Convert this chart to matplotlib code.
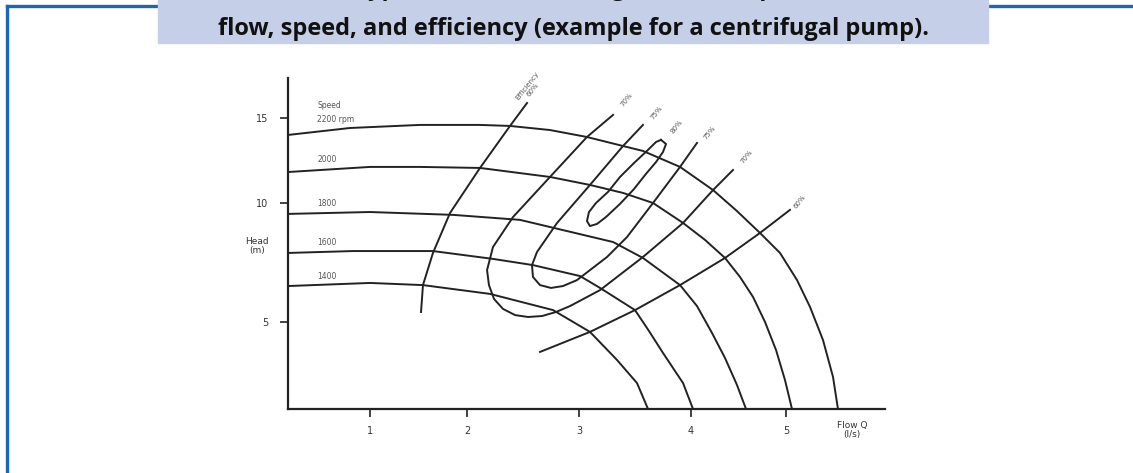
import numpy as np
import matplotlib
matplotlib.use('Agg')
import matplotlib.pyplot as plt
from matplotlib.lines import Line2D
from matplotlib.patches import Rectangle

# pump curves: flow Q (l/s) vs head (m)
q_2200 = [0, 0.756, 1.515, 2.116, 2.384, 2.741, 3.071, 3.393, 3.571, 3.902, 4.232, 4.484, 4.726, 4.937, 5.116, 5.253, 5.389, 5.495, 5.547]
h_2200 = [14.0, 14.41, 14.59, 14.59, 14.53, 14.29, 13.88, 13.35, 13.06, 12.12, 10.76, 9.66, 8.74, 7.90, 6.76, 5.63, 3.97, 1.84, 0]
q_2000 = [0, 1, 1.515, 2.116, 2.741, 3.098, 3.393, 3.661, 3.929, 4.147, 4.358, 4.516, 4.653, 4.779, 4.895, 4.989, 5.063]
h_2000 = [11.82, 12.12, 12.12, 12.06, 11.53, 11.06, 10.59, 10.0, 9.16, 8.45, 7.69, 6.89, 6.05, 5.0, 3.39, 1.67, 0]
q_1800 = [0, 1, 1.856, 2.473, 2.741, 3.304, 3.571, 3.902, 4.063, 4.221, 4.358, 4.484, 4.579]
h_1800 = [9.54, 9.62, 9.50, 9.29, 8.99, 8.36, 7.69, 6.55, 5.67, 4.37, 2.93, 1.38, 0]
q_1600 = [0, 0.793, 1.649, 2.232, 2.589, 3.009, 3.188, 3.5, 3.625, 3.75, 3.929, 4.021]
h_1600 = [7.90, 7.98, 7.98, 7.65, 7.39, 6.93, 6.43, 5.50, 4.48, 3.22, 1.49, 0]
q_1400 = [0, 1, 1.546, 2.205, 2.768, 3.098, 3.339, 3.518, 3.616]
h_1400 = [6.51, 6.64, 6.55, 6.18, 5.50, 4.43, 2.82, 1.49, 0]

speed_labels = ['2200 rpm', '2000', '1800', '1600', '1400']
speed_label_h = [14.88, 12.53, 9.96, 8.32, 6.89]

# efficiency contours
q_e60a = [2.536, 2.384, 2.116, 1.825, 1.649, 1.546, 1.526]
h_e60a = [15.88, 14.53, 12.06, 9.58, 7.90, 6.55, 5.42]
q_e60b = [2.652, 3.098, 3.5, 3.902, 4.358, 4.726, 5.042]
h_e60b = [3.28, 4.43, 5.50, 6.55, 7.69, 8.74, 9.71]
q_e70 = [3.304, 3.071, 2.741, 2.411, 2.232, 2.179, 2.196, 2.241, 2.321, 2.429, 2.545, 2.67, 2.795, 2.92, 3.188, 3.571, 3.929, 4.232, 4.442]
h_e70 = [15.18, 13.88, 11.53, 9.41, 8.15, 7.18, 6.55, 5.97, 5.55, 5.29, 5.21, 5.25, 5.42, 5.67, 6.34, 7.73, 9.16, 10.76, 11.94]
q_e75 = [3.571, 3.393, 3.098, 2.804, 2.625, 2.58, 2.589, 2.652, 2.75, 2.857, 2.982, 3.25, 3.429, 3.661, 3.902, 4.063]
h_e75 = [14.59, 13.35, 11.06, 9.16, 7.94, 7.39, 6.89, 6.55, 6.43, 6.51, 6.76, 7.73, 8.57, 10.0, 12.12, 13.53]
q_e80 = [3.732, 3.777, 3.75, 3.688, 3.598, 3.491, 3.366, 3.241, 3.161, 3.098, 3.071, 3.089, 3.152, 3.259, 3.366, 3.491, 3.616, 3.688, 3.732]
h_e80 = [13.71, 13.47, 13.0, 12.41, 11.71, 10.82, 9.96, 9.41, 9.12, 9.03, 9.24, 9.62, 10.0, 10.65, 11.53, 12.35, 13.12, 13.59, 13.71]

eff_labels = ['Efficiency\n60%', '70%', '75%', '80%', '75%', '70%', '60%']
eff_label_q = [2.563, 3.429, 3.696, 3.875, 4.2, 4.589, 5.147]
eff_label_h = [16.76, 16.06, 15.29, 14.47, 14.12, 12.71, 10.06]

# the scanned axes are not evenly spaced, so calibrate the scale on the ticks
XK = [-10, 0, 1, 2, 3, 4, 5, 6, 20]
XP = [-820, 0, 82, 179, 291, 403, 498, 593, 1923]
YK = [-10, 0, 5, 10, 15, 20, 40]
YP = [-174, 0, 87, 206, 291, 376, 716]

def fwd_x(v): return np.interp(v, XK, XP)
def inv_x(v): return np.interp(v, XP, XK)
def fwd_y(v): return np.interp(v, YK, YP)
def inv_y(v): return np.interp(v, YP, YK)

W, H = 1133, 473
fig = plt.figure(figsize=(W / 100, H / 100), dpi=100)

# blue frame + title box (first caption line is cut off by the crop)
blue = '#1a67b5'
fig.add_artist(Line2D([7 / W, 1], [1 - 6 / H, 1 - 6 / H], color=blue, lw=2.4))
fig.add_artist(Line2D([7 / W, 7 / W], [0, 1 - 6 / H], color=blue, lw=2.4))
fig.add_artist(Rectangle((158 / W, 1 - 43 / H), 830 / W, 43 / H, color='#c5cfe8', zorder=3))
title_font = dict(va='baseline', fontsize=17, fontweight='bold',
                  family='Open Sans', color='#111111', zorder=4)
fig.text(955 / W, 1 + 5 / H, 'Exhibit 4-11. Typical curves showing relationship between head,',
         ha='right', **title_font)
fig.text(573 / W, 1 - 35 / H, 'flow, speed, and efficiency (example for a centrifugal pump).',
         ha='center', **title_font)

ax = fig.add_axes([288 / W, 64 / H, 597 / W, 331 / H])
ax.set_xscale('function', functions=(fwd_x, inv_x))
ax.set_yscale('function', functions=(fwd_y, inv_y))
ax.set_xlim(0, 6.042)
ax.set_ylim(0, 17.35)

lc = '#222222'
for q, h in [(q_2200, h_2200), (q_2000, h_2000), (q_1800, h_1800),
             (q_1600, h_1600), (q_1400, h_1400)]:
    ax.plot(q, h, color=lc, lw=1.4, solid_joinstyle='round')
for q, h in [(q_e60a, h_e60a), (q_e60b, h_e60b), (q_e70, h_e70),
             (q_e75, h_e75), (q_e80, h_e80)]:
    ax.plot(q, h, color=lc, lw=1.4, solid_joinstyle='round')

ax.text(0.354, 15.76, 'Speed', fontsize=5.5, color='#555555', va='center')
for lab, hh in zip(speed_labels, speed_label_h):
    ax.text(0.354, hh, lab, fontsize=5.5, color='#555555', va='center')

for lab, qq, hh in zip(eff_labels, eff_label_q, eff_label_h):
    ax.text(qq, hh, lab, fontsize=5, color='#555555', rotation=52,
            ha='center', va='center', linespacing=1.0)

for s in ['top', 'right']:
    ax.spines[s].set_visible(False)
for s in ['left', 'bottom']:
    ax.spines[s].set_linewidth(1.6)
    ax.spines[s].set_color(lc)

ax.set_xticks([1, 2, 3, 4, 5])
ax.set_yticks([5, 10, 15])
ax.tick_params(direction='out', length=6, width=1.2, color=lc,
               labelsize=7, labelcolor='#333333')
ax.tick_params(axis='y', pad=8)
ax.tick_params(axis='x', pad=6)

ax.set_ylabel('Head\n(m)', rotation=0, fontsize=6.5, color='#333333',
              ha='center', va='center', linespacing=1.1)
ax.yaxis.set_label_coords(-0.052, 0.492)
ax.set_xlabel('Flow Q\n(l/s)', fontsize=6.5, color='#333333',
              ha='center', va='center', linespacing=1.1)
ax.xaxis.set_label_coords(0.945, -0.063)

fig.savefig('out.png', dpi=100)
